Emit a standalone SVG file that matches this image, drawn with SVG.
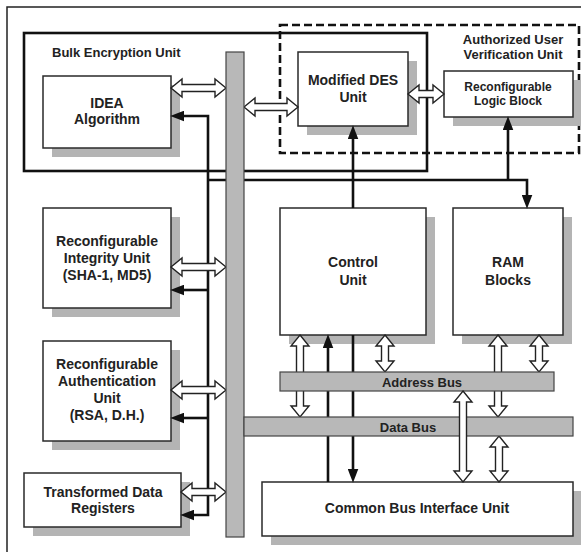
<svg xmlns="http://www.w3.org/2000/svg" width="581" height="552" viewBox="0 0 581 552">
  <style>
    text { font-family: "Liberation Sans", Arial, sans-serif; font-weight: bold; fill: #222; text-anchor: middle; }
    .t14 { font-size: 14px; }
    .t13 { font-size: 13px; }
    .t12 { font-size: 12px; }
    .box { fill: #fff; stroke: #2a2a2a; stroke-width: 1.5; }
    .shadow { fill: #b4b4b4; }
    .bus { fill: #b8b8b8; stroke: #444; stroke-width: 1.2; }
    .wire { fill: none; stroke: #111; stroke-width: 2.6; }
    .hollow { fill: #fff; stroke: #222; stroke-width: 1.4; stroke-linejoin: miter; }
  </style>
  <defs>
    <marker id="head" markerUnits="userSpaceOnUse" markerWidth="14" markerHeight="11" viewBox="0 0 13 10" refX="3" refY="5" orient="auto-start-reverse">
      <path d="M0,0 L13,5 L0,10 Z" fill="#111"/>
    </marker>
  </defs>

  <rect width="581" height="552" fill="#fff"/>
  <!-- outer frame -->
  <rect x="7" y="7" width="590" height="560" fill="none" stroke="#222" stroke-width="1.5"/>

  <!-- enclosing units -->
  <g id="bulk-encryption-unit">
    <rect x="24" y="33" width="403" height="138" fill="none" stroke="#111" stroke-width="2.6"/>
    <text class="t13" x="52" y="57" style="text-anchor:start">Bulk Encryption Unit</text>
  </g>
  <g id="authorized-user-verification-unit">
    <rect x="280" y="25" width="299" height="128" fill="none" stroke="#111" stroke-width="2.6" stroke-dasharray="8 4"/>
    <text class="t13" x="513" y="44">Authorized User</text>
    <text class="t13" x="513" y="59">Verification Unit</text>
  </g>

  <g id="idea-algorithm">
    <rect class="shadow" x="52" y="85" width="128" height="72"/>
    <rect class="box" x="43" y="76" width="128" height="72"/>
    <text class="t14" x="107" y="108">IDEA</text>
    <text class="t14" x="107" y="124">Algorithm</text>
  </g>
  <g id="modified-des-unit">
    <rect class="shadow" x="307" y="61" width="110" height="74"/>
    <rect class="box" x="298" y="52" width="110" height="74"/>
    <text class="t14" x="353" y="85">Modified DES</text>
    <text class="t14" x="353" y="102">Unit</text>
  </g>
  <g id="reconfigurable-logic-block">
    <rect class="shadow" x="453" y="80" width="129" height="46"/>
    <rect class="box" x="444" y="71" width="129" height="46"/>
    <text class="t12" x="508" y="91">Reconfigurable</text>
    <text class="t12" x="508" y="104.5">Logic Block</text>
  </g>
  <g id="integrity-unit">
    <rect class="shadow" x="52" y="217" width="128" height="100"/>
    <rect class="box" x="43" y="208" width="128" height="100"/>
    <text class="t14" x="107" y="246">Reconfigurable</text>
    <text class="t14" x="107" y="263">Integrity Unit</text>
    <text class="t14" x="107" y="280">(SHA-1, MD5)</text>
  </g>
  <g id="authentication-unit">
    <rect class="shadow" x="52" y="350" width="128" height="100"/>
    <rect class="box" x="43" y="341" width="128" height="100"/>
    <text class="t14" x="107" y="369">Reconfigurable</text>
    <text class="t14" x="107" y="386">Authentication</text>
    <text class="t14" x="107" y="403">Unit</text>
    <text class="t14" x="107" y="420">(RSA, D.H.)</text>
  </g>
  <g id="transformed-data-registers">
    <rect class="shadow" x="33" y="482" width="157" height="54"/>
    <rect class="box" x="24" y="473" width="157" height="54"/>
    <text class="t14" x="103" y="497">Transformed Data</text>
    <text class="t14" x="103" y="513">Registers</text>
  </g>
  <g id="control-unit">
    <rect class="shadow" x="289" y="217" width="146" height="127"/>
    <rect class="box" x="280" y="208" width="146" height="127"/>
    <text class="t14" x="353" y="267">Control</text>
    <text class="t14" x="353" y="285">Unit</text>
  </g>
  <g id="ram-blocks">
    <rect class="shadow" x="462" y="217" width="110" height="127"/>
    <rect class="box" x="453" y="208" width="110" height="127"/>
    <text class="t14" x="508" y="267">RAM</text>
    <text class="t14" x="508" y="285">Blocks</text>
  </g>
  <g id="common-bus-interface-unit">
    <rect class="shadow" x="271" y="491" width="311" height="54"/>
    <rect class="box" x="262" y="482" width="311" height="54"/>
    <text class="t14" x="417" y="513">Common Bus Interface Unit</text>
  </g>

  <!-- control wires and bus links -->
  <g id="connectors">
    <path class="wire" d="M181,116 H208 V515 H191" marker-start="url(#head)" marker-end="url(#head)"/>
    <path class="wire" d="M208,290 H181" marker-end="url(#head)"/>
    <path class="wire" d="M208,418 H181" marker-end="url(#head)"/>
    <path class="wire" d="M208,180 H527 V198" marker-end="url(#head)"/>
    <path class="wire" d="M508,180 V127" marker-end="url(#head)"/>
    <path class="wire" d="M353,208 V136" marker-end="url(#head)"/>
    <path class="wire" d="M328,482 V345" marker-end="url(#head)"/>
    <path class="wire" d="M353,335 V472" marker-end="url(#head)"/>

    <path class="hollow" d="M171,88 L182,79 L182,84.5 L215,84.5 L215,79 L226,88 L215,97 L215,91.5 L182,91.5 L182,97 Z"/>
    <path class="hollow" d="M244,107 L255,98 L255,103.5 L287,103.5 L287,98 L298,107 L287,116 L287,110.5 L255,110.5 L255,116 Z"/>
    <path class="hollow" d="M408,94 L419,85 L419,90.5 L433,90.5 L433,85 L444,94 L433,103 L433,97.5 L419,97.5 L419,103 Z"/>
    <path class="hollow" d="M171,267 L182,258 L182,263.5 L215,263.5 L215,258 L226,267 L215,276 L215,270.5 L182,270.5 L182,276 Z"/>
    <path class="hollow" d="M171,390 L182,381 L182,386.5 L215,386.5 L215,381 L226,390 L215,399 L215,393.5 L182,393.5 L182,399 Z"/>
    <path class="hollow" d="M181,492 L192,483 L192,488.5 L215,488.5 L215,483 L226,492 L215,501 L215,495.5 L192,495.5 L192,501 Z"/>

    <path class="hollow" d="M300,335 L309,346 L303.5,346 L303.5,406 L309,406 L300,417 L291,406 L296.5,406 L296.5,346 L291,346 Z"/>
    <path class="hollow" d="M385,335 L394,346 L388.5,346 L388.5,361 L394,361 L385,372 L376,361 L381.5,361 L381.5,346 L376,346 Z"/>
    <path class="hollow" d="M498,335 L507,346 L501.5,346 L501.5,406 L507,406 L498,417 L489,406 L494.5,406 L494.5,346 L489,346 Z"/>
    <path class="hollow" d="M539,335 L548,346 L542.5,346 L542.5,361 L548,361 L539,372 L530,361 L535.5,361 L535.5,346 L530,346 Z"/>
    <path class="hollow" d="M499,436 L508,447 L502.5,447 L502.5,471 L508,471 L499,482 L490,471 L495.5,471 L495.5,447 L490,447 Z"/>
  </g>

  <!-- buses -->
  <g id="internal-bus">
    <rect class="bus" x="226" y="52" width="18" height="485"/>
  </g>
  <g id="address-bus">
    <rect class="bus" x="280" y="372" width="274" height="19"/>
    <text class="t13" x="422" y="386.5">Address Bus</text>
  </g>
  <g id="data-bus">
    <rect class="bus" x="244" y="417" width="329" height="19"/>
    <text class="t13" x="408" y="431.5">Data Bus</text>
  </g>

  <g id="connectors-front">
    <path class="hollow" d="M463,391 L472,402 L466.5,402 L466.5,471 L472,471 L463,482 L454,471 L459.5,471 L459.5,402 L454,402 Z"/>
  </g>
</svg>
